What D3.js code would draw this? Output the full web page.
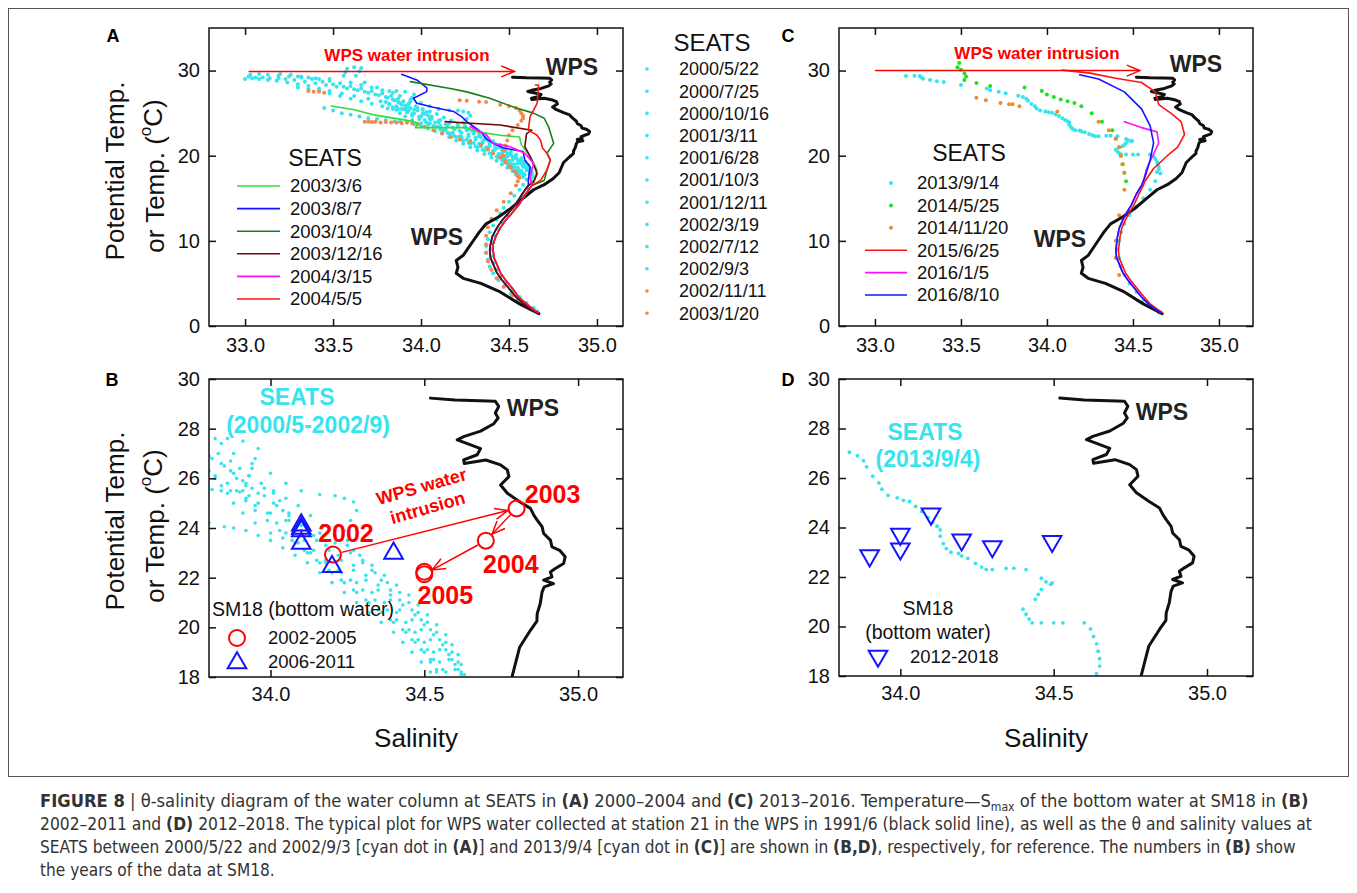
<!DOCTYPE html>
<html>
<head>
<meta charset="utf-8">
<script src="https://cdn.jsdelivr.net/npm/d3@7"></script>
<style>
  body { margin: 0; background: #fff; }
  svg { font-family: Arial, "Liberation Sans", Helvetica, sans-serif; }
</style>
</head>
<body>
<svg id="fig" width="1357" height="893"></svg>
<script>
// ---------- data: every point is [salinity, temperature] ----------
const sal_ticks_AC = [33.0, 33.5, 34.0, 34.5, 35.0];
const temp_ticks_AC = [0, 10, 20, 30];
const sal_ticks_BD = [34.0, 34.5, 35.0];
const temp_ticks_BD = [18, 20, 22, 24, 26, 28, 30];

// WPS station 21, 1991/6 (black line)
const wps_profile = [[34.52,29.23],[34.60,29.15],[34.68,29.12],[34.731,29.10],[34.742,28.9],[34.731,28.63],[34.74,28.43],[34.726,28.2],[34.683,27.9],[34.628,27.68],[34.607,27.55],[34.64,27.4],[34.683,27.2],[34.672,26.95],[34.628,26.74],[34.63,26.6],[34.70,26.74],[34.748,26.54],[34.77,26.34],[34.775,26.07],[34.748,25.73],[34.77,25.4],[34.81,25.06],[34.845,24.79],[34.856,24.52],[34.867,24.32],[34.883,24.05],[34.888,23.78],[34.91,23.51],[34.915,23.24],[34.94,23.1],[34.958,22.84],[34.953,22.57],[34.926,22.37],[34.91,22.23],[34.915,22.03],[34.888,21.9],[34.92,21.76],[34.89,21.63],[34.883,21.43],[34.877,20.96],[34.867,20.55],[34.866,20.25],[34.845,19.88],[34.81,19.2],[34.785,18.0],[34.75,17.3],[34.70,16.6],[34.64,16.0],[34.58,15.0],[34.51,13.8],[34.44,12.8],[34.37,12.0],[34.33,11.0],[34.30,10.1],[34.26,8.9],[34.24,8.3],[34.20,7.7],[34.21,6.9],[34.20,6.2],[34.24,5.6],[34.34,5.0],[34.45,4.0],[34.56,2.6],[34.67,1.45]];

// SEATS dots, panel A (cyan ones also shown in B)
const seats_dot_dates_A = ["2000/5/22","2000/7/25","2000/10/16","2001/3/11","2001/6/28","2001/10/3","2001/12/11","2002/3/19","2002/7/12","2002/9/3","2002/11/11","2003/1/20"];
const cyan_2000_5_22 = [[33.00,29.0],[33.04,29.1],[33.08,29.0],[33.13,28.9],[33.18,28.8],[33.24,28.6],[33.30,28.4],[33.36,28.2],[33.42,27.9],[33.48,27.6],[33.55,27.3],[33.62,27.0],[33.70,26.7],[33.77,26.4],[33.82,26.1],[33.86,25.8],[33.89,25.5],[33.92,25.1],[33.95,24.7],[33.99,24.3],[34.03,23.9],[34.07,23.5],[34.11,23.1],[34.15,22.7],[34.19,22.3],[34.23,21.9],[34.27,21.5],[34.31,21.1],[34.35,20.7],[34.39,20.3],[34.43,19.9],[34.46,19.5],[34.49,19.1],[34.52,18.7],[34.54,18.3],[34.56,17.9],[34.58,17.5]];
const cyan_2000_7_25 = [[33.03,29.5],[33.08,29.6],[33.13,29.5],[33.19,29.4],[33.25,29.3],[33.32,29.2],[33.40,29.1],[33.48,29.0],[33.56,29.4],[33.57,29.8],[33.58,30.2],[33.62,30.4],[33.66,30.3],[33.65,29.9],[33.63,29.4],[33.68,28.6],[33.75,28.0],[33.82,27.6],[33.86,27.6],[33.91,27.5],[33.96,27.2],[33.95,26.8],[33.94,26.4],[33.93,26.1],[33.92,25.8],[33.91,25.5],[33.92,25.2],[33.95,24.9],[34.00,24.6],[34.05,24.3],[34.10,23.9],[34.15,23.5],[34.19,23.1],[34.23,22.7],[34.27,22.3],[34.31,21.9],[34.35,21.5],[34.39,21.1],[34.42,20.7],[34.46,20.3],[34.49,19.9],[34.52,19.5],[34.55,19.1],[34.58,18.7],[34.60,18.3],[34.62,17.9],[34.63,17.5]];
const cyan_2000_10_16 = [[33.30,28.0],[33.36,27.8],[33.42,27.6],[33.48,27.3],[33.54,27.0],[33.60,26.7],[33.66,26.4],[33.72,26.1],[33.78,25.8],[33.81,25.55],[33.84,25.5],[33.87,25.5],[33.90,25.45],[33.93,25.3],[33.96,25.0],[33.99,24.6],[34.02,24.2],[34.05,23.8],[34.09,23.4],[34.13,23.0],[34.18,22.6],[34.23,22.2],[34.28,21.8],[34.33,21.4],[34.37,21.0],[34.41,20.6],[34.44,20.2],[34.47,19.8],[34.50,19.4],[34.53,19.0],[34.55,18.6],[34.57,18.2],[34.59,17.8]];
const cyan_2001_3_11 = [[33.45,25.6],[33.50,25.3],[33.55,25.0],[33.60,24.8],[33.65,24.6],[33.70,24.4],[33.75,24.3],[33.80,24.2],[33.85,24.05],[33.88,24.0],[33.92,23.9],[33.96,23.7],[34.00,23.5],[34.04,23.2],[34.08,22.9],[34.12,22.6],[34.16,22.2],[34.20,21.8],[34.24,21.4],[34.28,21.0],[34.32,20.6],[34.36,20.2],[34.40,19.8],[34.43,19.4],[34.46,19.0],[34.49,18.6],[34.52,18.2],[34.54,17.8]];
const cyan_2001_6_28 = [[33.20,29.6],[33.26,29.5],[33.32,29.3],[33.38,29.0],[33.44,28.7],[33.50,28.4],[33.56,28.1],[33.62,27.8],[33.68,27.5],[33.74,27.2],[33.80,26.9],[33.84,26.6],[33.87,26.3],[33.89,26.0],[33.92,25.7],[33.96,25.4],[34.01,25.0],[34.06,24.6],[34.11,24.2],[34.16,23.8],[34.21,23.4],[34.26,23.0],[34.30,22.6],[34.34,22.2],[34.38,21.8],[34.42,21.4],[34.45,21.0],[34.48,20.6],[34.51,20.2],[34.54,19.8],[34.57,19.4],[34.59,19.0],[34.61,18.6],[34.62,18.2],[34.63,17.8]];
const cyan_2001_10_3 = [[33.60,28.6],[33.66,28.3],[33.72,28.0],[33.78,27.7],[33.84,27.4],[33.88,27.0],[33.94,26.6],[34.00,26.2],[34.05,25.8],[34.10,25.5],[34.16,25.35],[34.21,25.3],[34.24,25.2],[34.27,25.05],[34.28,24.7],[34.26,24.3],[34.24,23.9],[34.25,23.5],[34.27,23.1],[34.30,22.7],[34.33,22.3],[34.36,21.9],[34.39,21.5],[34.42,21.1],[34.46,20.7],[34.49,20.3],[34.52,19.9],[34.55,19.5],[34.57,19.1],[34.59,18.7],[34.61,18.3],[34.62,17.9]];
const cyan_2001_12_11 = [[33.98,25.6],[34.01,25.4],[34.03,25.1],[34.04,24.7],[34.06,24.3],[34.08,23.9],[34.11,23.5],[34.14,23.1],[34.18,22.7],[34.22,22.3],[34.26,21.9],[34.30,21.5],[34.34,21.1],[34.38,20.7],[34.41,20.3],[34.45,19.9],[34.48,19.5],[34.51,19.1],[34.53,18.7],[34.56,18.3],[34.58,17.9]];
const cyan_2002_3_19 = [[33.80,26.3],[33.82,26.0],[33.84,25.7],[33.86,25.4],[33.88,25.0],[33.91,24.6],[33.95,24.2],[34.00,23.8],[34.04,23.6],[34.08,23.4],[34.12,23.0],[34.16,22.6],[34.20,22.2],[34.24,21.8],[34.28,21.4],[34.32,21.0],[34.36,20.6],[34.40,20.2],[34.44,19.8],[34.47,19.4],[34.50,19.0],[34.52,18.6],[34.54,18.2],[34.56,17.8]];
const cyan_2002_7_12 = [[33.02,29.3],[33.06,29.2],[33.10,29.2],[33.14,29.1],[33.19,29.1],[33.23,29.0],[33.28,28.9],[33.34,28.7],[33.40,28.5],[33.46,28.3],[33.52,28.1],[33.58,27.9],[33.64,27.7],[33.70,27.4],[33.76,27.1],[33.81,26.8],[33.85,26.5],[33.88,26.2],[33.91,25.9],[33.94,25.6],[33.98,25.3],[34.02,24.9],[34.06,24.5],[34.10,24.1],[34.14,23.7],[34.18,23.3],[34.22,22.9],[34.27,22.5],[34.31,22.1],[34.35,21.7],[34.39,21.3],[34.43,20.9],[34.47,20.5],[34.50,20.1],[34.53,19.7],[34.56,19.3],[34.58,18.9],[34.60,18.5],[34.62,18.1],[34.63,17.7]];
const cyan_2002_9_3 = [[33.30,29.3],[33.36,29.2],[33.42,29.0],[33.48,28.8],[33.54,28.5],[33.60,28.2],[33.66,27.9],[33.72,27.6],[33.78,27.3],[33.83,27.0],[33.87,26.7],[33.90,26.4],[33.93,26.1],[33.97,25.8],[34.01,25.5],[34.05,25.2],[34.09,24.9],[34.13,24.5],[34.17,24.1],[34.21,23.7],[34.25,23.3],[34.29,22.9],[34.33,22.5],[34.37,22.1],[34.41,21.7],[34.45,21.3],[34.48,20.9],[34.51,20.5],[34.54,20.1],[34.57,19.7],[34.59,19.3],[34.61,18.9],[34.62,18.5],[34.63,18.1]];
const orange_2002_11_11 = [[33.36,27.6],[33.39,27.5],[33.42,27.5],[33.45,27.4],[34.22,26.5],[34.26,26.45],[34.33,26.35],[34.37,26.3],[34.45,26.0],[34.50,25.8],[34.54,25.6],[34.56,25.3],[34.57,25.0],[34.58,24.7],[34.58,24.4],[34.57,24.1],[34.55,23.6],[34.52,23.0],[34.50,22.4],[34.49,21.8],[34.48,21.2],[34.47,20.6],[34.47,20.0],[34.48,19.4],[34.50,18.8],[34.53,18.2],[34.55,17.6],[34.55,17.0]];
const orange_2003_1_20 = [[33.68,24.0],[33.70,24.0],[33.72,23.95],[33.74,24.0],[33.77,23.9],[33.80,23.95],[33.83,23.9],[33.86,23.9],[33.89,23.85],[33.92,23.9],[33.95,23.8],[33.98,23.7],[34.02,23.4],[34.07,23.0],[34.12,22.6],[34.17,22.2],[34.22,21.9],[34.28,21.6],[34.34,21.3],[34.38,20.8],[34.41,20.3],[34.45,19.8],[34.48,19.2],[34.51,18.6],[34.54,18.0],[34.56,17.4],[34.54,16.5],[34.51,15.6],[34.47,14.6],[34.43,13.6],[34.40,12.6],[34.38,11.6],[34.37,10.6],[34.37,9.6],[34.37,8.6],[34.38,7.6],[34.40,6.6],[34.43,5.6],[34.47,4.6],[34.52,3.6],[34.57,2.8],[34.62,2.0]];
const seats_cyan_deep_A = [[34.60,17.2],[34.58,16.6],[34.56,16.0],[34.53,15.3],[34.50,14.6],[34.47,13.9],[34.45,13.2],[34.43,12.5],[34.41,11.8],[34.39,11.0],[34.38,10.2],[34.37,9.4],[34.37,8.6],[34.38,7.8],[34.39,7.0],[34.41,6.2],[34.44,5.4],[34.47,4.6],[34.51,3.8],[34.55,3.1],[34.59,2.5],[34.63,1.9],[34.63,17.0],[34.61,16.2],[34.58,15.4],[34.55,14.6],[34.52,13.8],[34.49,13.0],[34.46,12.2],[34.44,11.4],[34.42,10.6],[34.41,9.8],[34.40,9.0],[34.40,8.2],[34.41,7.4],[34.43,6.6],[34.45,5.8],[34.48,5.0],[34.52,4.2],[34.56,3.4],[34.60,2.7],[34.64,2.1],[34.66,1.7]];
const seats_dot_profiles_A = [cyan_2000_5_22, cyan_2000_7_25, cyan_2000_10_16, cyan_2001_3_11, cyan_2001_6_28, cyan_2001_10_3, cyan_2001_12_11, cyan_2002_3_19, cyan_2002_7_12, cyan_2002_9_3, orange_2002_11_11, orange_2003_1_20];

// SEATS lines, panel A
const seats_line_dates_A = ["2003/3/6","2003/8/7","2003/10/4","2003/12/16","2004/3/15","2004/5/5"];
const line_2003_3_6 = [[33.49,25.84],[33.62,25.4],[33.73,24.8],[33.88,24.3],[33.957,24.0],[33.985,23.8],[33.967,23.3],[34.07,23.3],[34.26,23.3],[34.32,22.8],[34.45,22.4],[34.56,22.2],[34.57,21.3],[34.62,19.9],[34.66,18.3],[34.64,17.1]];
const line_2003_8_7 = [[33.89,29.57],[33.976,28.9],[34.033,27.96],[34.033,27.53],[33.957,26.75],[33.976,26.16],[34.07,25.7],[34.185,25.2],[34.23,24.6],[34.26,24.0],[34.30,23.4],[34.34,22.8],[34.37,22.0],[34.41,21.45],[34.47,20.9],[34.58,20.5],[34.59,19.5],[34.62,18.7],[34.61,17.1]];
const line_2003_10_4 = [[33.94,28.7],[34.166,27.9],[34.26,27.5],[34.39,26.75],[34.545,25.57],[34.64,25.0],[34.70,24.4],[34.725,23.4],[34.754,21.45],[34.716,20.3],[34.735,19.5],[34.716,18.3],[34.70,17.1]];
const line_2003_12_16 = [[34.137,24.0],[34.26,23.85],[34.45,23.6],[34.63,23.0],[34.60,22.6],[34.59,21.06],[34.61,20.3],[34.63,19.5],[34.66,17.9],[34.64,16.9]];
const line_2004_3_15 = [[34.28,23.4],[34.374,22.4],[34.41,21.45],[34.507,21.06],[34.59,20.3],[34.64,19.1],[34.62,17.5]];
const line_2004_5_5 = [[34.65,28.3],[34.668,28.3],[34.66,26.16],[34.62,24.6],[34.61,23.0],[34.66,22.4],[34.68,21.8],[34.69,20.9],[34.716,20.3],[34.735,19.5],[34.715,18.3],[34.68,17.1]];
const deep_A_left = [[34.61,16.5],[34.575,15.5],[34.535,14.2],[34.495,13.2],[34.46,12.4],[34.43,11.5],[34.405,10.5],[34.395,9.6],[34.39,8.9],[34.395,8.0],[34.41,7.3],[34.43,6.3],[34.46,5.4],[34.50,4.4],[34.54,3.4],[34.585,2.6],[34.625,2.0],[34.655,1.6]];
const deep_A_right = [[34.63,16.5],[34.595,15.5],[34.555,14.2],[34.515,13.2],[34.48,12.4],[34.45,11.5],[34.425,10.5],[34.41,9.6],[34.41,8.9],[34.415,8.0],[34.43,7.3],[34.45,6.3],[34.48,5.4],[34.52,4.4],[34.555,3.4],[34.60,2.6],[34.635,2.0],[34.665,1.6]];
const seats_lines_A = [line_2003_3_6.concat(deep_A_left), line_2003_8_7.concat(deep_A_left), line_2003_10_4.concat(deep_A_right), line_2003_12_16.concat(deep_A_left), line_2004_3_15.concat(deep_A_right), line_2004_5_5.concat(deep_A_right)];

// panel C
const seats_dates_C = ["2013/9/14","2014/5/25","2014/11/20","2015/6/25","2016/1/5","2016/8/10"];
const cyan_2013_9_14 = [[33.18,29.35],[33.23,29.4],[33.26,29.35],[33.27,29.2],[33.28,29.05],[33.32,28.9],[33.36,28.75],[33.40,28.65],[33.50,28.3],[33.65,27.9],[33.67,27.7],[33.72,27.5],[33.76,27.35],[33.834,27.04],[33.86,26.9],[33.88,26.7],[33.89,26.45],[33.91,26.07],[33.93,25.8],[33.94,25.55],[33.96,25.3],[33.99,25.2],[34.01,25.1],[34.03,25.05],[34.05,24.85],[34.07,24.65],[34.09,24.4],[34.105,24.2],[34.12,24.05],[34.13,23.9],[34.13,23.65],[34.14,23.35],[34.15,23.15],[34.165,23.0],[34.19,22.95],[34.20,22.85],[34.22,22.75],[34.245,22.55],[34.265,22.4],[34.28,22.3],[34.30,22.3],[34.345,22.35],[34.37,22.35],[34.41,22.3],[34.46,21.95],[34.475,21.8],[34.49,21.7],[34.495,21.76],[34.46,21.5],[34.45,21.3],[34.44,21.1],[34.40,20.7],[34.41,20.5],[34.42,20.3],[34.43,20.15],[34.46,20.15],[34.50,20.15],[34.53,20.15],[34.60,20.15],[34.62,19.9],[34.63,19.6],[34.64,19.3],[34.645,19.0],[34.65,18.7],[34.65,18.4],[34.64,18.1],[34.66,17.9],[34.63,17.0],[34.60,16.0],[34.56,15.0],[34.52,14.0],[34.48,13.0],[34.45,12.0],[34.43,11.0],[34.42,10.0],[34.41,9.0],[34.42,8.0],[34.43,7.0],[34.45,6.0],[34.48,5.0],[34.52,4.0],[34.56,3.0],[34.61,2.2],[34.65,1.6]];
const green_2014_5_25 = [[33.49,30.9],[33.48,30.4],[33.50,30.1],[33.52,29.7],[33.53,29.3],[33.52,28.9],[33.59,28.55],[33.67,28.2],[33.87,28.0],[33.97,27.6],[34.00,27.2],[34.04,26.9],[34.08,26.6],[34.12,26.4],[34.16,26.2],[34.20,25.8],[34.26,25.0],[34.32,24.0],[34.38,23.0],[34.40,22.0],[34.42,21.0],[34.43,20.0],[34.44,19.0],[34.45,18.0],[34.46,17.0]];
const orange_2014_11_20 = [[33.59,26.8],[33.645,26.5],[33.73,26.2],[33.78,26.05],[33.80,26.05],[33.84,25.8],[34.06,25.2],[34.30,24.0],[34.36,23.0],[34.40,22.0],[34.42,21.0],[34.43,20.0],[34.44,19.0],[34.45,18.0],[34.45,16.0],[34.42,13.0],[34.40,10.0],[34.40,8.0],[34.42,6.0]];
const line_2015_6_25 = [[34.09,30.05],[34.25,29.7],[34.40,29.1],[34.55,28.6],[34.63,27.5],[34.65,26.0],[34.72,25.0],[34.78,24.0],[34.80,22.5],[34.76,21.0],[34.70,20.0],[34.62,18.5],[34.57,17.0]];
const line_2016_1_5 = [[34.45,24.0],[34.55,23.3],[34.64,22.8],[34.65,21.5],[34.62,20.2],[34.58,18.5],[34.56,17.0]];
const line_2016_8_10 = [[34.19,29.5],[34.30,29.0],[34.45,27.5],[34.55,25.5],[34.60,23.5],[34.62,21.5],[34.60,19.5],[34.57,17.5]];
const deep_C_left = [[34.55,16.5],[34.52,15.5],[34.49,14.2],[34.46,13.2],[34.44,12.4],[34.42,11.5],[34.41,10.5],[34.405,9.6],[34.40,8.9],[34.405,8.0],[34.42,7.3],[34.44,6.3],[34.47,5.4],[34.51,4.4],[34.55,3.4],[34.59,2.6],[34.63,2.0],[34.66,1.6]];
const deep_C_right = [[34.56,16.5],[34.535,15.5],[34.505,14.2],[34.475,13.2],[34.455,12.4],[34.435,11.5],[34.425,10.5],[34.42,9.6],[34.415,8.9],[34.42,8.0],[34.435,7.3],[34.455,6.3],[34.485,5.4],[34.525,4.4],[34.565,3.4],[34.60,2.6],[34.64,2.0],[34.67,1.6]];
const seats_dots_C = [cyan_2013_9_14, green_2014_5_25, orange_2014_11_20];
const seats_lines_C = [line_2015_6_25.concat(deep_C_right), line_2016_1_5.concat(deep_C_left), line_2016_8_10.concat(deep_C_left)];

// SM18 bottom water (B, D)
const sm18_2002_2005 = [[34.203,22.93],[34.80,24.79],[34.70,23.49],[34.50,22.14],[34.50,22.24]];
const sm18_year_labels = ["2002","2003","2004","2005"];
const sm18_2006_2011 = [[34.10,24.12],[34.10,23.98],[34.10,23.88],[34.10,23.38],[34.20,22.44],[34.40,22.98]];
const sm18_2012_2018 = [[33.90,22.86],[34.00,23.73],[34.00,23.14],[34.10,24.55],[34.20,23.5],[34.30,23.23],[34.495,23.44]];

// WPS water intrusion arrows
const intrusion_A = [[33.02,29.9],[34.53,29.9]];
const intrusion_C = [[33.0,30.0],[34.54,30.0]];

// ---------- colours ----------
const cyan = "#36e4ee";
const orange = "#f5874a";
const red = "#ff0000";
const line_colors_A = ["#33dd33", "#1414ff", "#16801a", "#6a0808", "#ff10ff", "#ff1414"];
const colors_C = [cyan, "#22dd22", "#f08a2a", "#ff1414", "#ff10ff", "#1414ff"];

// ---------- layout ----------
const frames = {
  A: {name: "A", left: 209, right: 623, top: 28, bottom: 326, sal: [32.795, 35.148], temp: [0, 35], xpad: 12, letter: [113, 36]},
  B: {name: "B", left: 209, right: 623, top: 379, bottom: 677, sal: [33.8, 35.146], temp: [18, 30], xpad: 10, letter: [112, 380]},
  C: {name: "C", left: 839, right: 1253, top: 28, bottom: 326, sal: [32.791, 35.198], temp: [0, 35], xpad: 12, letter: [788, 36]},
  D: {name: "D", left: 839, right: 1253, top: 379, bottom: 676, sal: [33.8, 35.15], temp: [18, 30], xpad: 10, letter: [788, 380]}
};

const svg = d3.select("#fig");

// figure border
svg.append("rect").attr("x", 8.5).attr("y", 8.5).attr("width", 1340).attr("height", 768)
  .attr("fill", "none").attr("stroke", "#555").attr("stroke-width", 1);

const defs = svg.append("defs");
defs.append("marker").attr("id", "arrowhead")
  .attr("markerUnits", "userSpaceOnUse").attr("markerWidth", 16).attr("markerHeight", 14)
  .attr("refX", 14).attr("refY", 7).attr("orient", "auto")
  .append("path").attr("d", "M1,1.5 L14,7 L1,12.5")
  .attr("fill", "none").attr("stroke", red).attr("stroke-width", 1.5);

function make_panel(f, sal_ticks, temp_ticks) {
  const x = d3.scaleLinear().domain(f.sal).range([f.left, f.right]);
  const y = d3.scaleLinear().domain(f.temp).range([f.bottom, f.top]);
  const w = f.right - f.left, h = f.bottom - f.top;

  defs.append("clipPath").attr("id", "clip_" + f.name)
    .append("rect").attr("x", f.left).attr("y", f.top).attr("width", w).attr("height", h);
  const plot = svg.append("g").attr("clip-path", `url(#clip_${f.name})`);

  const axes = svg.append("g");
  const fmt = d3.format(".1f");
  axes.append("g").attr("transform", `translate(0,${f.bottom})`)
    .call(d3.axisBottom(x).tickValues(sal_ticks).tickFormat(fmt).tickSizeInner(-7).tickSizeOuter(0).tickPadding(f.xpad));
  axes.append("g").attr("transform", `translate(0,${f.top})`)
    .call(d3.axisTop(x).tickValues(sal_ticks).tickFormat("").tickSizeInner(-7).tickSizeOuter(0));
  axes.append("g").attr("transform", `translate(${f.left},0)`)
    .call(d3.axisLeft(y).tickValues(temp_ticks).tickSizeInner(-7).tickSizeOuter(0).tickPadding(9));
  axes.append("g").attr("transform", `translate(${f.right},0)`)
    .call(d3.axisRight(y).tickValues(temp_ticks).tickFormat("").tickSizeInner(-7).tickSizeOuter(0));
  axes.selectAll(".domain").remove();
  axes.selectAll("g").attr("font-family", null).attr("font-size", 20);
  axes.selectAll(".tick line").attr("stroke", "#111").attr("stroke-width", 1.5);
  axes.selectAll(".tick text").attr("fill", "#111");
  axes.append("rect").attr("x", f.left).attr("y", f.top).attr("width", w).attr("height", h)
    .attr("fill", "none").attr("stroke", "#111").attr("stroke-width", 1.5);

  // panel letter
  svg.append("text").attr("x", f.letter[0]).attr("y", f.letter[1]).attr("dy", "0.35em")
    .attr("text-anchor", "middle").attr("font-weight", "bold").attr("font-size", 18).text(f.name);

  return {x, y, plot};
}

function dots(p, data, color, r) {
  p.plot.append("g").selectAll("circle").data(data).join("circle")
    .attr("cx", d => p.x(d[0])).attr("cy", d => p.y(d[1])).attr("r", r).attr("fill", color);
}

function path(p, data, color, width) {
  const line = d3.line().x(d => p.x(d[0])).y(d => p.y(d[1]));
  p.plot.append("path").datum(data).attr("d", line)
    .attr("fill", "none").attr("stroke", color).attr("stroke-width", width)
    .attr("stroke-linejoin", "round").attr("stroke-linecap", "round");
}

function label(x, y, str, size, opts = {}) {
  return svg.append("text").attr("x", x).attr("y", y).attr("dy", "0.35em")
    .attr("text-anchor", opts.anchor || "middle").attr("font-size", size)
    .attr("font-weight", opts.bold ? "bold" : null).attr("fill", opts.color || "#111").text(str);
}

function y_title(cx, cy) {
  label(cx - 20, cy - 3, "Potential Temp.", 26).attr("transform", `rotate(-90,${cx - 20},${cy - 3})`);
  const t = label(cx + 20, cy + 2, "or Temp. (", 26).attr("transform", `rotate(-90,${cx + 20},${cy + 2})`);
  t.append("tspan").attr("dy", "-0.75em").attr("font-size", 17).text("o");
  t.append("tspan").attr("dy", "0.4em").text("C)");
}

// ---------- panel A ----------
const pA = make_panel(frames.A, sal_ticks_AC, temp_ticks_AC);
seats_dot_profiles_A.slice(0, 10).forEach(d => dots(pA, d, cyan, 2));
dots(pA, seats_cyan_deep_A, cyan, 2);
seats_dot_profiles_A.slice(10).forEach(d => dots(pA, d, orange, 2));
path(pA, wps_profile, "#111", 3);
seats_lines_A.forEach((d, i) => path(pA, d, line_colors_A[i], 1.6));
pA.plot.append("path").datum(intrusion_A)
  .attr("d", d3.line().x(d => pA.x(d[0])).y(d => pA.y(d[1])))
  .attr("stroke", red).attr("stroke-width", 1.5).attr("marker-end", "url(#arrowhead)");
label(407, 55, "WPS water intrusion", 17, {bold: true, color: red});
label(572, 67, "WPS", 23, {bold: true, color: "#222"});
label(437, 237, "WPS", 23, {bold: true, color: "#222"});
y_title(135, 174);

// inner legend of lines
label(325, 158, "SEATS", 23);
seats_line_dates_A.forEach((s, i) => {
  const yy = 186 + i * 22.6;
  svg.append("line").attr("x1", 237).attr("x2", 280).attr("y1", yy).attr("y2", yy)
    .attr("stroke", line_colors_A[i]).attr("stroke-width", 1.6);
  label(290, yy, s, 18.5, {anchor: "start"});
});

// outer legend of dots
label(712, 43, "SEATS", 24);
seats_dot_dates_A.forEach((s, i) => {
  const yy = 69 + i * 22.2;
  svg.append("circle").attr("cx", 647).attr("cy", yy).attr("r", 1.8).attr("fill", i < 10 ? cyan : orange);
  label(679, yy, s, 18, {anchor: "start"});
});

// ---------- panel B ----------
const pB = make_panel(frames.B, sal_ticks_BD, temp_ticks_BD);
seats_dot_profiles_A.slice(0, 10).forEach(d => dots(pB, d, cyan, 1.8));
path(pB, wps_profile, "#111", 3);

pB.plot.append("g").selectAll("circle").data(sm18_2002_2005).join("circle")
  .attr("cx", d => pB.x(d[0])).attr("cy", d => pB.y(d[1])).attr("r", 8)
  .attr("fill", "none").attr("stroke", red).attr("stroke-width", 2);
const tri = d3.symbol().type(d3.symbolTriangle).size(150);
pB.plot.append("g").selectAll("path").data(sm18_2006_2011).join("path")
  .attr("d", tri).attr("transform", d => `translate(${pB.x(d[0])},${pB.y(d[1])})`)
  .attr("fill", "none").attr("stroke", "#1414ff").attr("stroke-width", 2);

// arrows between successive years
for (let i = 0; i < 3; i++) {
  const a = [pB.x(sm18_2002_2005[i][0]), pB.y(sm18_2002_2005[i][1])];
  const b = [pB.x(sm18_2002_2005[i + 1][0]), pB.y(sm18_2002_2005[i + 1][1])];
  const len = Math.hypot(b[0] - a[0], b[1] - a[1]);
  const ux = (b[0] - a[0]) / len, uy = (b[1] - a[1]) / len;
  svg.append("line")
    .attr("x1", a[0] + ux * 9).attr("y1", a[1] + uy * 9)
    .attr("x2", b[0] - ux * 9).attr("y2", b[1] - uy * 9)
    .attr("stroke", red).attr("stroke-width", 1.5).attr("marker-end", "url(#arrowhead)");
}
const year_offsets = [[13, -21], [36, -14], [25, 24], [21, 21]];
sm18_year_labels.forEach((s, i) => {
  const d = sm18_2002_2005[i];
  label(pB.x(d[0]) + year_offsets[i][0], pB.y(d[1]) + year_offsets[i][1], s, 25, {bold: true, color: red});
});
const intr = svg.append("g").attr("transform", "translate(426,502) rotate(-16)");
intr.append("text").attr("y", -10).attr("text-anchor", "middle").attr("font-size", 18).attr("font-weight", "bold").attr("fill", red).text("WPS water");
intr.append("text").attr("y", 12).attr("text-anchor", "middle").attr("font-size", 18).attr("font-weight", "bold").attr("fill", red).text("intrusion");

label(297, 397, "SEATS", 23, {bold: true, color: cyan});
label(308, 425, "(2000/5-2002/9)", 23, {bold: true, color: cyan});
label(533, 408, "WPS", 23, {bold: true, color: "#222"});
label(212, 609, "SM18 (bottom water)", 19.5, {anchor: "start"});
svg.append("circle").attr("cx", 237).attr("cy", 638).attr("r", 8)
  .attr("fill", "none").attr("stroke", red).attr("stroke-width", 2);
label(268, 638, "2002-2005", 18.5, {anchor: "start"});
svg.append("path").attr("d", tri).attr("transform", "translate(237,663)")
  .attr("fill", "none").attr("stroke", "#1414ff").attr("stroke-width", 2);
label(268, 662, "2006-2011", 18.5, {anchor: "start"});
y_title(135, 524);
label(416, 738, "Salinity", 26);

// ---------- panel C ----------
const pC = make_panel(frames.C, sal_ticks_AC, temp_ticks_AC);
seats_dots_C.forEach((d, i) => dots(pC, d, colors_C[i], 2));
path(pC, wps_profile, "#111", 3);
seats_lines_C.forEach((d, i) => path(pC, d, colors_C[i + 3], 1.6));
pC.plot.append("path").datum(intrusion_C)
  .attr("d", d3.line().x(d => pC.x(d[0])).y(d => pC.y(d[1])))
  .attr("stroke", red).attr("stroke-width", 1.5).attr("marker-end", "url(#arrowhead)");
label(1037, 53, "WPS water intrusion", 17, {bold: true, color: red});
label(1196, 64, "WPS", 23, {bold: true, color: "#222"});
label(1060, 239, "WPS", 23, {bold: true, color: "#222"});
label(969, 153, "SEATS", 23);
seats_dates_C.forEach((s, i) => {
  const yy = 183 + i * 22.4;
  if (i < 3) {
    svg.append("circle").attr("cx", 891).attr("cy", yy).attr("r", 2).attr("fill", colors_C[i]);
  } else {
    svg.append("line").attr("x1", 865).attr("x2", 907).attr("y1", yy).attr("y2", yy)
      .attr("stroke", colors_C[i]).attr("stroke-width", 1.6);
  }
  label(917, yy, s, 18.5, {anchor: "start"});
});

// ---------- panel D ----------
const pD = make_panel(frames.D, sal_ticks_BD, temp_ticks_BD);
dots(pD, cyan_2013_9_14.filter(d => d[0] >= 33.8), cyan, 1.9);
path(pD, wps_profile, "#111", 3);
pD.plot.append("g").selectAll("path").data(sm18_2012_2018).join("path")
  .attr("d", tri).attr("transform", d => `translate(${pD.x(d[0])},${pD.y(d[1])}) rotate(180)`)
  .attr("fill", "none").attr("stroke", "#1414ff").attr("stroke-width", 2);
label(925, 432, "SEATS", 23, {bold: true, color: cyan});
label(928, 459, "(2013/9/4)", 23, {bold: true, color: cyan});
label(1162, 412, "WPS", 23, {bold: true, color: "#222"});
label(928, 608, "SM18", 19.5);
label(928, 632, "(bottom water)", 19.5);
svg.append("path").attr("d", tri).attr("transform", "translate(878,656) rotate(180)")
  .attr("fill", "none").attr("stroke", "#1414ff").attr("stroke-width", 2);
label(910, 657, "2012-2018", 18.5, {anchor: "start"});
label(1046, 738, "Salinity", 26);

// ---------- caption ----------
const caption = [
  {y: 807, w: 1270, parts: [{t: "FIGURE 8", b: 1}, {t: " | θ-salinity diagram of the water column at SEATS in "}, {t: "(A)", b: 1}, {t: " 2000–2004 and "}, {t: "(C)", b: 1}, {t: " 2013–2016. Temperature—S"}, {t: "max", sub: 1}, {t: " of the bottom water at SM18 in "}, {t: "(B)", b: 1}]},
  {y: 830, w: 1273, parts: [{t: "2002–2011 and "}, {t: "(D)", b: 1}, {t: " 2012–2018. The typical plot for WPS water collected at station 21 in the WPS in 1991/6 (black solid line), as well as the θ and salinity values at"}]},
  {y: 853, w: 1257, parts: [{t: "SEATS between 2000/5/22 and 2002/9/3 [cyan dot in "}, {t: "(A)", b: 1}, {t: "] and 2013/9/4 [cyan dot in "}, {t: "(C)", b: 1}, {t: "] are shown in "}, {t: "(B,D)", b: 1}, {t: ", respectively, for reference. The numbers in "}, {t: "(B)", b: 1}, {t: " show"}]},
  {y: 876, w: null, parts: [{t: "the years of the data at SM18."}]}
];
let last_scale = 1;
caption.forEach(line => {
  const t = svg.append("text").attr("font-size", 18).attr("fill", "#333")
    .attr("font-family", "'Liberation Sans Narrow', 'DejaVu Sans Condensed', Arial, sans-serif");
  let shifted = false;
  line.parts.forEach(p => {
    const s = t.append("tspan").text(p.t);
    if (p.b) s.attr("font-weight", "bold");
    if (p.sub) { s.attr("dy", 4).attr("font-size", 12); shifted = true; }
    else if (shifted) { s.attr("dy", -4); shifted = false; }
  });
  const natural = t.node().getComputedTextLength();
  const sx = line.w ? line.w / natural : last_scale;
  last_scale = sx;
  t.attr("transform", `translate(40,${line.y}) scale(${sx},1)`);
});
</script>
</body>
</html>
